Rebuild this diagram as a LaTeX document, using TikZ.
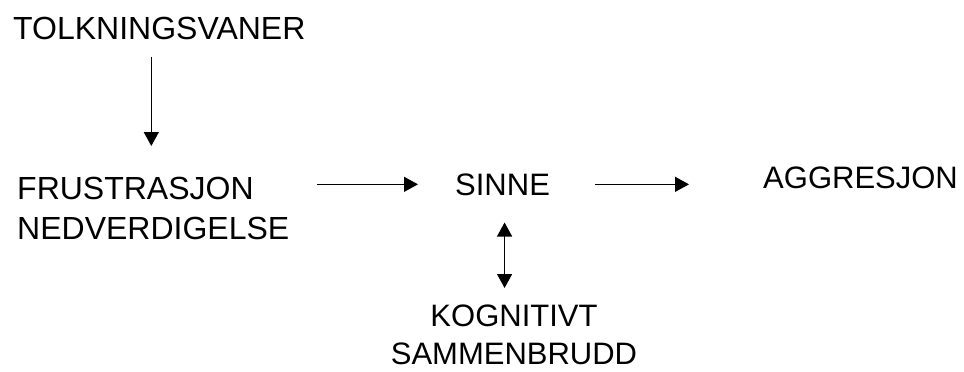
\documentclass[tikz,border=0pt]{standalone}
\usepackage{fontspec}
\setmainfont{Liberation Sans}
\usetikzlibrary{arrows.meta}
\begin{document}
\begin{tikzpicture}[x=1pt,y=-1pt,
  lbl/.style={inner sep=0pt,font=\fontsize{31}{39}\selectfont},
  biglbl/.style={inner sep=0pt,font=\fontsize{32}{40}\selectfont},
  arr/.style={line width=1.3pt,-{Triangle[length=14pt,width=15pt]}},
  darr/.style={line width=1.3pt,{Triangle[length=14pt,width=15pt]}-{Triangle[length=14pt,width=15pt]}}]
\useasboundingbox (0,0) rectangle (964,372);
\node[biglbl,anchor=base west] (tolk) at (13,39) {TOLKNINGSVANER};
\node[biglbl,anchor=north west,align=left] (frus) at (17,177) {FRUSTRASJON\\NEDVERDIGELSE};
\node[lbl,anchor=base west] (sinne) at (455,195) {SINNE};
\node[lbl,anchor=base west] (aggr) at (763,188) {AGGRESJON};
\node[lbl,anchor=north,align=center,font=\fontsize{31}{38}\selectfont] (kogn) at (514,305) {KOGNITIVT\\SAMMENBRUDD};
\draw[arr,shorten <=17pt,shorten >=31pt] ([xshift=-8pt]tolk.south) -- ([xshift=-8pt]tolk.south |- frus.north);
\draw[arr,shorten <=28pt,shorten >=37pt] (frus.east |- sinne.west) -- (sinne.west);
\draw[arr,shorten <=45pt,shorten >=74pt] (sinne.east) -- (aggr.west |- sinne.east);
\draw[darr,shorten <=27pt,shorten >=17pt] ([xshift=2pt]sinne.south) -- ([xshift=2pt]sinne.south |- kogn.north);
\end{tikzpicture}
\end{document}
